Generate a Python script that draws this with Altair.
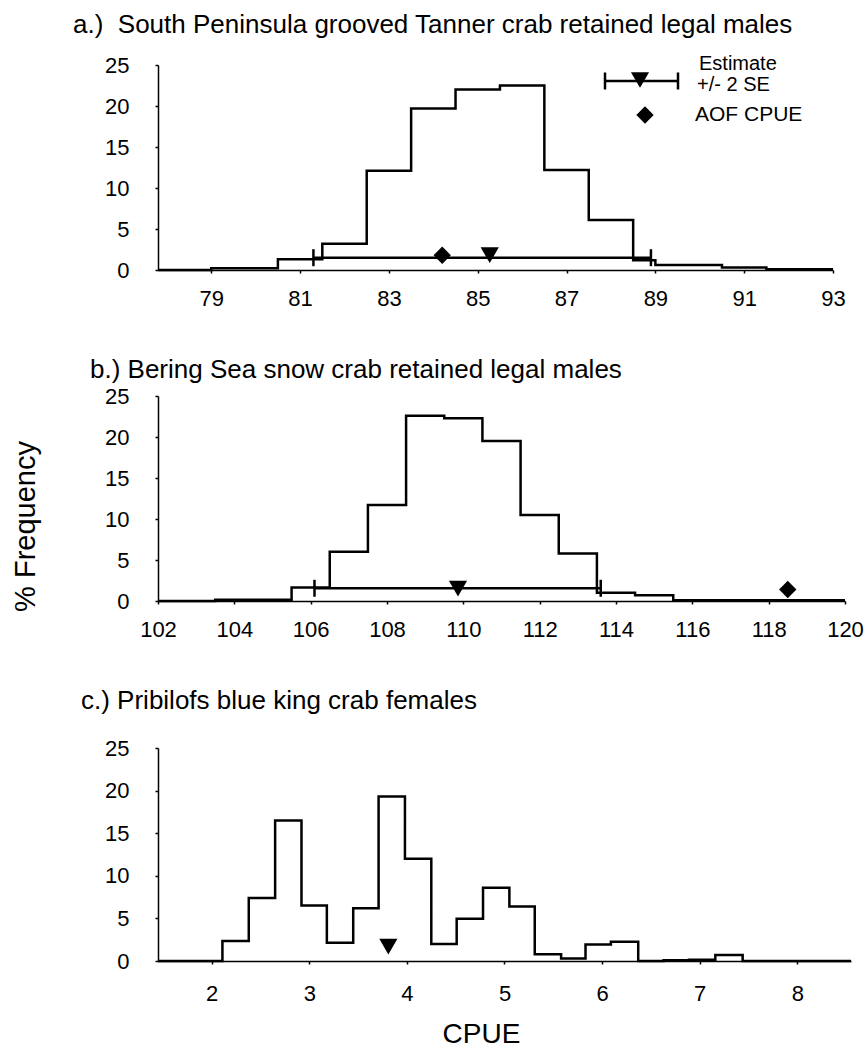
import altair as alt
import pandas as pd

FONT = "Liberation Sans"

# ---------------- data ----------------
# a.) South Peninsula grooved Tanner crab retained legal males
a_edges = [77.8, 79.0, 80.5, 81.5, 82.5, 83.5, 84.5, 85.5, 86.5, 87.5, 88.5, 89.0, 90.5, 91.5, 93.0]
a_pct = [0.0, 0.2, 1.3, 3.2, 12.1, 19.7, 22.0, 22.5, 12.2, 6.1, 1.2, 0.6, 0.3, 0.1]
a_ticks = [79, 81, 83, 85, 87, 89, 91, 93]
a_estimate = [85.27]
a_est_y = [1.8]
a_lower = [81.3]
a_upper = [88.9]
a_bar_y = [1.5]
a_aof = [84.2]
a_aof_y = [1.8]

# b.) Bering Sea snow crab retained legal males
b_edges = [102.0, 103.5, 105.5, 106.5, 107.5, 108.5, 109.5, 110.5, 111.5, 112.5, 113.5, 114.5, 115.5, 120.0]
b_pct = [0.0, 0.15, 1.65, 6.0, 11.7, 22.6, 22.3, 19.5, 10.5, 5.8, 1.0, 0.7, 0.1]
b_ticks = [102, 104, 106, 108, 110, 112, 114, 116, 118, 120]
b_estimate = [109.86]
b_est_y = [1.5]
b_lower = [106.1]
b_upper = [113.6]
b_bar_y = [1.55]
b_aof = [118.5]
b_aof_y = [1.4]

# c.) Pribilofs blue king crab females
c_edges = [1.45, 2.11, 2.38, 2.65, 2.92, 3.18, 3.45, 3.71, 3.98, 4.25, 4.51, 4.78,
           5.05, 5.31, 5.58, 5.83, 6.09, 6.37, 6.63, 6.89, 7.16, 7.44, 8.55]
c_pct = [0.0, 2.35, 7.4, 16.5, 6.5, 2.15, 6.2, 19.3, 12.0, 2.0, 4.95, 8.6,
         6.4, 0.8, 0.3, 1.95, 2.25, 0.0, 0.1, 0.15, 0.7, 0.0]
c_ticks = [2, 3, 4, 5, 6, 7, 8]
c_estimate = [3.81]
c_est_y = [1.7]

y_ticks = [0, 5, 10, 15, 20, 25]

titles = [
    "a.)\u00a0 South Peninsula grooved Tanner crab retained legal males",
    "b.) Bering Sea snow crab retained legal males",
    "c.) Pribilofs blue king crab females",
]


def step_table(edges, pct):
    rows = [{"x": e, "y": v, "o": i} for i, (e, v) in enumerate(zip(edges, pct))]
    rows.append({"x": edges[-1], "y": pct[-1], "o": len(pct)})
    return pd.DataFrame(rows)


def panel(title, title_dx, title_dy, edges, pct, ticks, w, h,
          est, est_y, lo=None, hi=None, bar_y=None, aof=None, aof_y=None,
          ytitle=None, xtitle=None, legend=False, xlab_pad=15):
    xs = alt.Scale(domain=[edges[0], edges[-1]], nice=False, zero=False)
    ys = alt.Scale(domain=[0, 25], nice=False)
    xaxis_kw = dict(values=ticks, format="d", labelFontSize=22, labelPadding=xlab_pad,
                    tickSize=3, labelFlush=False)
    if xtitle:
        xaxis_kw.update(title=xtitle, titleFontSize=28, titlePadding=16,
                        titleX=323, titleFontWeight="normal", titleFont=FONT)
    else:
        xaxis_kw.update(title=None)
    yaxis_kw = dict(values=y_ticks, labelFontSize=22, labelPadding=26, tickSize=3)
    if ytitle:
        yaxis_kw.update(title=ytitle, titleFontSize=29, titlePadding=64,
                        titleFontWeight="normal", titleFont=FONT, titleY=130)
    else:
        yaxis_kw.update(title=None)
    xax = alt.Axis(**xaxis_kw)
    yax = alt.Axis(**yaxis_kw)

    def X(f):
        return alt.X(f, scale=xs, axis=xax)

    def Y(f):
        return alt.Y(f, scale=ys, axis=yax)

    hist = alt.Chart(step_table(edges, pct)).mark_line(
        interpolate="step-after", color="black", strokeWidth=2.5
    ).encode(x=X("x:Q"), y=Y("y:Q"), order="o:Q")
    layers = [hist]

    if lo is not None:
        bar_df = pd.DataFrame({"x": lo, "hi": hi, "y": bar_y})
        layers.append(alt.Chart(bar_df).mark_rule(color="black", strokeWidth=2.5).encode(
            x=X("x:Q"), x2="hi:Q", y=Y("y:Q")))
        cap_df = pd.DataFrame({"x": lo + hi, "y": bar_y + bar_y})
        layers.append(alt.Chart(cap_df).mark_tick(
            orient="vertical", color="black", size=17, thickness=2.5, opacity=1
        ).encode(x=X("x:Q"), y=Y("y:Q")))

    est_df = pd.DataFrame({"x": est, "y": est_y})
    layers.append(alt.Chart(est_df).mark_point(
        shape="triangle-down", filled=True, color="black", size=330, opacity=1
    ).encode(x=X("x:Q"), y=Y("y:Q")))

    if aof is not None:
        aof_df = pd.DataFrame({"x": aof, "y": aof_y})
        layers.append(alt.Chart(aof_df).mark_point(
            shape="diamond", filled=True, color="black", size=300, opacity=1
        ).encode(x=X("x:Q"), y=Y("y:Q")))

    one = pd.DataFrame({"k": [0]})
    base = alt.Chart(one)
    # panel title, drawn as text above the plot area
    layers.append(base.mark_text(text=title, align="left", baseline="middle",
                                 font=FONT, fontSize=26, color="black").encode(
        x=alt.value(title_dx), y=alt.value(title_dy)))

    if legend:
        layers += [
            base.mark_rule(color="black", strokeWidth=2.5).encode(
                x=alt.value(447), x2=alt.value(520), y=alt.value(16)),
            base.mark_rule(color="black", strokeWidth=2.5).encode(
                x=alt.value(447), y=alt.value(7.5), y2=alt.value(24.5)),
            base.mark_rule(color="black", strokeWidth=2.5).encode(
                x=alt.value(520), y=alt.value(7.5), y2=alt.value(24.5)),
            base.mark_point(shape="triangle-down", filled=True, color="black",
                            size=330, opacity=1).encode(x=alt.value(482), y=alt.value(15)),
            base.mark_point(shape="diamond", filled=True, color="black",
                            size=300, opacity=1).encode(x=alt.value(487), y=alt.value(50)),
            base.mark_text(text="Estimate", align="left", baseline="middle",
                           font=FONT, fontSize=20, color="black").encode(
                x=alt.value(541), y=alt.value(-1)),
            base.mark_text(text="+/- 2 SE", align="left", baseline="middle",
                           font=FONT, fontSize=20, color="black").encode(
                x=alt.value(539), y=alt.value(20)),
            base.mark_text(text="AOF CPUE", align="left", baseline="middle",
                           font=FONT, fontSize=21, color="black").encode(
                x=alt.value(537), y=alt.value(50)),
        ]

    return alt.layer(*layers).properties(width=w, height=h)


pa = panel(titles[0], -85, -40,
           a_edges, a_pct, a_ticks, 675, 205, a_estimate, a_est_y,
           a_lower, a_upper, a_bar_y, a_aof, a_aof_y, legend=True)
pb = panel(titles[1], -68, -26,
           b_edges, b_pct, b_ticks, 687, 205, b_estimate, b_est_y,
           b_lower, b_upper, b_bar_y, b_aof, b_aof_y, ytitle="% Frequency")
pc = panel(titles[2], -77, -47,
           c_edges, c_pct, c_ticks, 693, 213, c_estimate, c_est_y,
           xtitle="CPUE", xlab_pad=19)

chart = alt.vconcat(pa, pb, pc, spacing=48).properties(
    padding={"top": 12, "left": 11, "right": 0, "bottom": 0},
    background="white",
).configure_view(stroke=None).configure_axis(
    labelFont=FONT, labelColor="black", domainColor="black", domainWidth=1.5,
    tickColor="black", tickWidth=1.5, grid=False, titleColor="black",
)

chart.save("out.html", embed_options={"renderer": "svg", "actions": False})
